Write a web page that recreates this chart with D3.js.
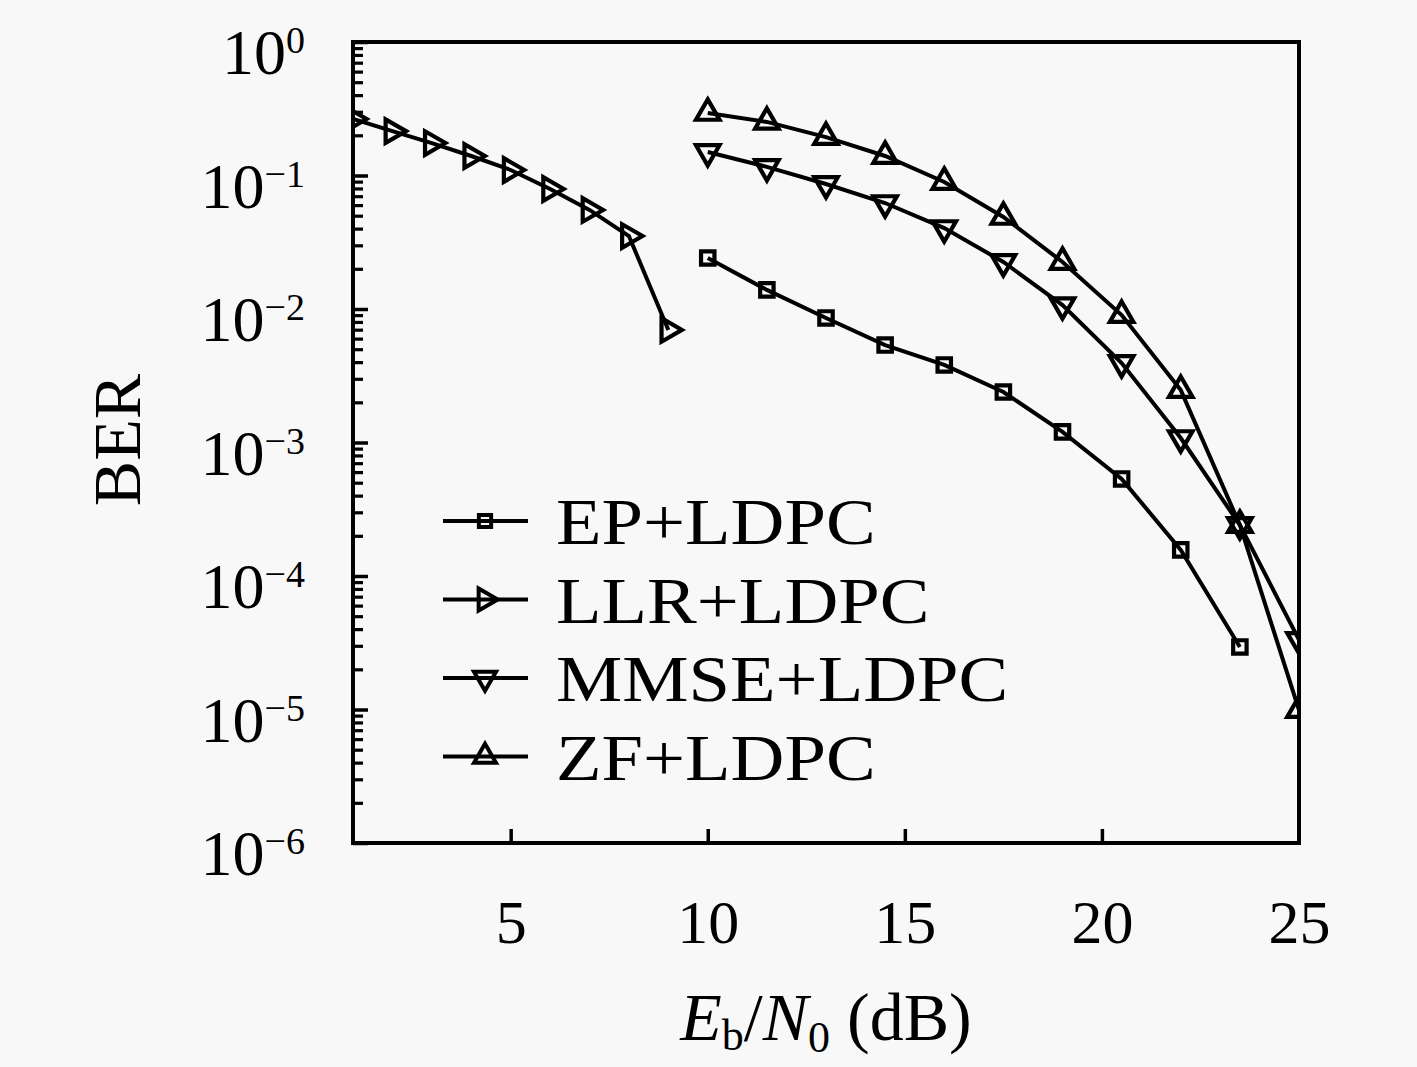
<!DOCTYPE html>
<html>
<head>
<meta charset="utf-8">
<script src="https://cdn.jsdelivr.net/npm/d3@7"></script>
<style>
    body { margin: 0; background: #f8f8f8; }
    svg text { font-family: "Liberation Serif", "DejaVu Serif", serif; fill: #000; }
</style>
</head>
<body>
<div id="plot"></div>
<script>
// x values (Eb/N0 in dB)
var snrLLR = [1, 2, 3, 4, 5, 6, 7, 8, 9];
var snrHigh = [10, 11.5, 13, 14.5, 16, 17.5, 19, 20.5, 22, 23.5, 25];

// BER values
var berEP   = [0.0241, 0.0139, 0.00857, 0.00537, 0.00381, 0.00239, 0.00120, 0.000533, 0.000157, 0.0000294];
var berLLR  = [0.265, 0.215, 0.175, 0.140, 0.110, 0.0792, 0.0552, 0.0352, 0.00697];
var berMMSE = [0.150, 0.116, 0.0864, 0.0622, 0.0404, 0.0225, 0.0107, 0.00394, 0.00108, 0.000241, 0.0000332];
var berZF   = [0.294, 0.252, 0.194, 0.140, 0.0894, 0.0489, 0.0225, 0.00901, 0.00247, 0.000241, 0.0000099];

var seriesNames = ["EP+LDPC", "LLR+LDPC", "MMSE+LDPC", "ZF+LDPC"];
var xTicks = [5, 10, 15, 20, 25];
var yExponents = [0, -1, -2, -3, -4, -5, -6];

var series = [
    {name: seriesNames[0], x: snrHigh.slice(0, berEP.length), y: berEP, marker: "square"},
    {name: seriesNames[1], x: snrLLR, y: berLLR, marker: "right"},
    {name: seriesNames[2], x: snrHigh, y: berMMSE, marker: "down"},
    {name: seriesNames[3], x: snrHigh, y: berZF, marker: "up"}
];

var W = 1417, H = 1067;
// note: "top" is taken by window.top, so use box names
var box = {left: 353, right: 1299, top: 42, bottom: 843};

var svg = d3.select("#plot").append("svg")
    .attr("width", W)
    .attr("height", H);

svg.append("rect").attr("width", W).attr("height", H).attr("fill", "#f8f8f8");

svg.append("clipPath").attr("id", "plotClip")
    .append("rect")
    .attr("x", box.left).attr("y", box.top)
    .attr("width", box.right - box.left).attr("height", box.bottom - box.top);

var x = d3.scaleLinear().domain([1, 25]).range([box.left, box.right]);
var y = d3.scaleLog().domain([1e-6, 1]).range([box.bottom, box.top]);

// marker shapes
function markerPath(kind, big)
{
    if(kind == "square")
    {
        return d3.symbol().type(d3.symbolSquare).size(big ? 180 : 150)();
    }
    return d3.symbol().type(d3.symbolTriangle).size(big ? 240 : 210)();
}
function markerRotate(kind)
{
    if(kind == "right") return 90;
    if(kind == "down") return 180;
    return 0;
}

// x axis, inward ticks
var xAxis = svg.append("g")
    .attr("transform", "translate(0," + box.bottom + ")")
    .call(d3.axisBottom(x).tickValues(xTicks).tickSize(-14).tickPadding(56).tickFormat(d3.format("d")));
xAxis.select(".domain").remove();
xAxis.selectAll("line").attr("stroke", "#000").attr("stroke-width", 3.5)
    .attr("opacity", function(d) { return d == 25 ? 0 : 1; });
xAxis.selectAll("text")
    .attr("font-size", 62)
    .attr("font-family", "Liberation Serif")
    .attr("fill", "#000");

// y axis, major and minor ticks
var minorVals = [];
for (var e = -6; e < 0; e++)
{
    for (var m = 2; m <= 9; m++)
    {
        minorVals.push(m * Math.pow(10, e));
    }
}
var yMinor = svg.append("g")
    .attr("transform", "translate(" + box.left + ",0)")
    .call(d3.axisLeft(y).tickValues(minorVals).tickSize(-10).tickFormat(""));
yMinor.select(".domain").remove();
yMinor.selectAll("line").attr("stroke", "#000").attr("stroke-width", 3.2);

var yMajor = svg.append("g")
    .attr("transform", "translate(" + box.left + ",0)")
    .call(d3.axisLeft(y).tickValues(yExponents.map(function(p) { return Math.pow(10, p); })).tickSize(-15).tickFormat(""));
yMajor.select(".domain").remove();
yMajor.selectAll("line").attr("stroke", "#000").attr("stroke-width", 3.5);

// y tick labels as 10^k
var yLab = svg.append("g").selectAll("text")
    .data(yExponents).enter()
    .append("text")
    .attr("x", 305)
    .attr("y", function(d) { return y(Math.pow(10, d)) + 32; })
    .attr("text-anchor", "end")
    .attr("font-size", 64);
yLab.append("tspan").text("10");
yLab.append("tspan")
    .attr("font-size", 38)
    .attr("dy", -21)
    .text(function(d) { return d == 0 ? "0" : "\u2212" + (-d); });

// curves, clipped to the plot box
var line = d3.line()
    .x(function(d) { return x(d[0]); })
    .y(function(d) { return y(d[1]); });

var plotArea = svg.append("g").attr("clip-path", "url(#plotClip)");

series.forEach(function(s) {
    var pts = s.x.map(function(v, i) { return [v, s.y[i]]; });
    var g = plotArea.append("g");
    g.append("path")
        .attr("d", line(pts))
        .attr("fill", "none")
        .attr("stroke", "#000")
        .attr("stroke-width", 4);
    g.selectAll("path.mk")
        .data(pts).enter()
        .append("path")
        .attr("class", "mk")
        .attr("d", markerPath(s.marker, true))
        .attr("transform", function(d) { return "translate(" + x(d[0]) + "," + y(d[1]) + ") rotate(" + markerRotate(s.marker) + ")"; })
        .attr("fill", "none")
        .attr("stroke", "#000")
        .attr("stroke-width", 4.2);
});

// plot frame
svg.append("rect")
    .attr("x", box.left).attr("y", box.top)
    .attr("width", box.right - box.left).attr("height", box.bottom - box.top)
    .attr("fill", "none").attr("stroke", "#000").attr("stroke-width", 4);

// legend
var legend = svg.append("g");
var legRows = legend.selectAll("g")
    .data(series).enter()
    .append("g")
    .attr("transform", function(d, i) { return "translate(0," + (521 + i * 78.5) + ")"; });
legRows.append("line")
    .attr("x1", 443).attr("x2", 528)
    .attr("stroke", "#000").attr("stroke-width", 4);
legRows.append("path")
    .attr("d", function(d) { return markerPath(d.marker, false); })
    .attr("transform", function(d) { return "translate(485,0) rotate(" + markerRotate(d.marker) + ")"; })
    .attr("fill", "none").attr("stroke", "#000").attr("stroke-width", 4);
legRows.append("text")
    .attr("x", 556)
    .attr("y", 23)
    .attr("font-size", 66)
    .attr("transform", "translate(556,0) scale(1.13,1) translate(-556,0)")
    .text(function(d) { return d.name; });

// axis titles
svg.append("text")
    .attr("transform", "translate(140,440) rotate(-90)")
    .attr("text-anchor", "middle")
    .attr("font-size", 68)
    .text("BER");

var xt = svg.append("text")
    .attr("x", 826)
    .attr("y", 1040)
    .attr("text-anchor", "middle")
    .attr("font-size", 68);
xt.append("tspan").attr("font-style", "italic").text("E");
xt.append("tspan").attr("font-size", 44).attr("dy", 10).text("b");
xt.append("tspan").attr("dy", -10).text("/");
xt.append("tspan").attr("font-style", "italic").text("N");
xt.append("tspan").attr("font-size", 44).attr("dy", 12).text("0");
xt.append("tspan").attr("dy", -12).text(" (dB)");
</script>
</body>
</html>
